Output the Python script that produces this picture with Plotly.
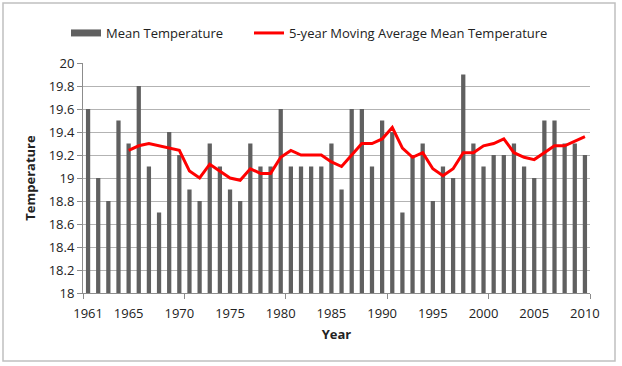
import plotly.graph_objects as go

years = list(range(1961, 2011))
mean_temp = [19.6, 19.0, 18.8, 19.5, 19.3, 19.8, 19.1, 18.7, 19.4, 19.2,
             18.9, 18.8, 19.3, 19.1, 18.9, 18.8, 19.3, 19.1, 19.1, 19.6,
             19.1, 19.1, 19.1, 19.1, 19.3, 18.9, 19.6, 19.6, 19.1, 19.5,
             19.4, 18.7, 19.2, 19.3, 18.8, 19.1, 19.0, 19.9, 19.3, 19.1,
             19.2, 19.2, 19.3, 19.1, 19.0, 19.5, 19.5, 19.3, 19.3, 19.2]
ma_years = list(range(1965, 2011))
ma_temp = [19.24, 19.28, 19.30, 19.28, 19.26, 19.24, 19.06, 19.00, 19.12, 19.06,
           19.00, 18.98, 19.08, 19.04, 19.04, 19.18, 19.24, 19.20, 19.20, 19.20,
           19.14, 19.10, 19.20, 19.30, 19.30, 19.34, 19.44, 19.26, 19.18, 19.22,
           19.08, 19.02, 19.08, 19.22, 19.22, 19.28, 19.30, 19.34, 19.22, 19.18,
           19.16, 19.22, 19.28, 19.28, 19.32, 19.36]
tick_years = [1961, 1965, 1970, 1975, 1980, 1985, 1990, 1995, 2000, 2005, 2010]
y_ticks = [18, 18.2, 18.4, 18.6, 18.8, 19, 19.2, 19.4, 19.6, 19.8, 20]

W, H = 622, 366
L, R, T, B = 83, 32, 63, 73
pw = W - L - R
ph = H - T - B

font = "Open Sans"
BAR_COLOR = "#606060"

fig = go.Figure()
fig.add_trace(go.Bar(x=years, y=mean_temp, name="Mean Temperature",
                     marker=dict(color=BAR_COLOR, line=dict(width=0)),
                     width=0.42, showlegend=False))
# legend proxy giving a wide swatch like the reference
fig.add_trace(go.Scatter(x=[None], y=[None], mode="lines", name="Mean Temperature",
                         line=dict(color=BAR_COLOR, width=7), legend="legend"))
fig.add_trace(go.Scatter(x=ma_years, y=ma_temp, mode="lines",
                         name="5-year Moving Average Mean Temperature",
                         line=dict(color="#ff0000", width=3), legend="legend2"))
# invisible trace anchoring a secondary x axis for boundary tick marks
fig.add_trace(go.Scatter(x=[1960.5], y=[18], xaxis="x2", mode="markers",
                         marker=dict(opacity=0), showlegend=False, hoverinfo="skip"))

leg_y = 1 + (T - 18) / ph
fig.update_layout(
    width=W, height=H,
    margin=dict(l=L, r=R, t=T, b=B),
    paper_bgcolor="white", plot_bgcolor="white",
    font=dict(family=font, size=13, color="#222222"),
    legend=dict(orientation="h", x=(66 - L) / pw, y=leg_y,
                xanchor="left", yanchor="top",
                font=dict(size=13, color="#222222"), itemwidth=30),
    legend2=dict(orientation="h", x=(249 - L) / pw, y=leg_y,
                 xanchor="left", yanchor="top",
                 font=dict(size=13, color="#222222"), itemwidth=30),
    xaxis=dict(range=[1960.5, 2010.5], tickmode="array", tickvals=tick_years,
               ticktext=[str(v) for v in tick_years], ticks="",
               ticklabelstandoff=8,
               showgrid=False, showline=True, linecolor="#8c8c8c", linewidth=1,
               zeroline=False,
               title=dict(text="<b>Year</b>", font=dict(size=13), standoff=9),
               tickfont=dict(size=13)),
    xaxis2=dict(range=[1960.5, 2010.5], overlaying="x", side="bottom",
                tickmode="array", tickvals=[1960.5 + 10 * k for k in range(6)],
                ticks="outside", ticklen=5, tickcolor="#8c8c8c",
                showticklabels=False, showgrid=False, showline=False, zeroline=False),
    yaxis=dict(range=[18, 20], tickmode="array", tickvals=y_ticks,
               ticktext=[("%g" % v) for v in y_ticks],
               showgrid=True, gridcolor="#b3b3b3", gridwidth=1,
               showline=True, linecolor="#8c8c8c", linewidth=1,
               ticks="outside", ticklen=5, tickcolor="#8c8c8c",
               zeroline=False,
               title=dict(text="<b>Temperature</b>", font=dict(size=13), standoff=10),
               tickfont=dict(size=13)),
    shapes=[dict(type="rect", xref="paper", yref="paper",
                 x0=(3 - L) / pw, x1=(615 - L) / pw,
                 y0=1 - (361 - T) / ph, y1=1 + (T - 3) / ph,
                 line=dict(color="#c0c0c0", width=1.5), fillcolor="rgba(0,0,0,0)",
                 layer="below")],
)

fig.write_html("out.html")
